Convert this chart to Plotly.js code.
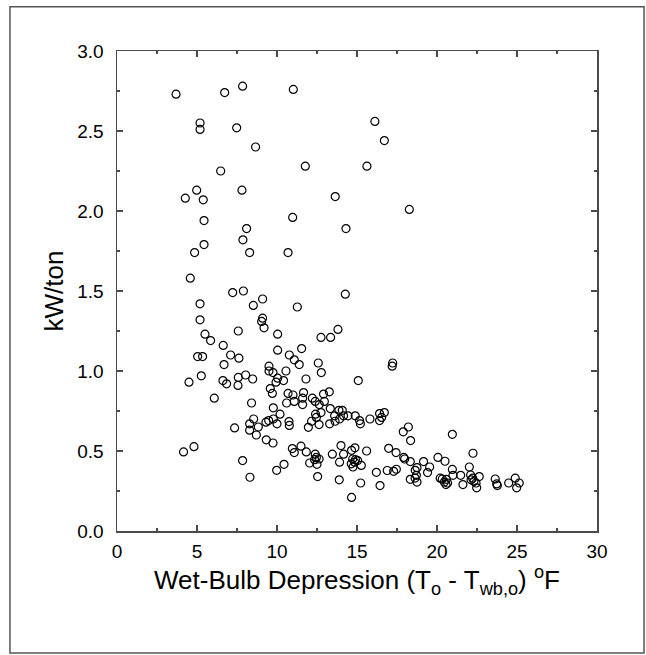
<!DOCTYPE html>
<html>
<head>
<meta charset="utf-8">
<script src="https://cdn.plot.ly/plotly-3.0.1.min.js"></script>
<style>
  html, body { margin: 0; padding: 0; background: #fff; }
  #chart { width: 646px; height: 655px; }
</style>
</head>
<body>
<div id="chart"></div>
<script>
// Wet-bulb depression (°F) for each observation
const wbDepression = [
  3.69, 6.73, 7.85, 5.19, 5.19, 7.48, 8.66, 6.48, 4.98, 4.27,
  5.39, 7.81, 5.44, 11.02, 16.12, 16.71, 11.77, 15.62, 13.64, 18.27,
  10.98, 8.10, 7.87, 4.85, 5.44, 8.29, 4.58, 14.31, 10.69,
  7.23, 7.90, 9.10, 5.19, 8.52, 5.19, 9.10, 9.04, 9.19, 5.50,
  5.85, 7.58, 10.04, 6.64, 7.10, 7.62, 5.04, 5.35, 10.04, 6.69,
  9.50, 9.50, 9.75, 14.27, 11.27, 13.81, 12.75, 13.35, 11.54, 10.77,
  11.08, 11.39, 12.58, 12.77, 17.23, 17.20, 10.56,
  5.27, 4.50, 6.62, 6.85, 7.58, 7.56, 8.04, 8.48, 9.94, 9.58,
  9.71, 6.08, 8.41, 9.77, 11.81, 15.08, 10.04, 10.41, 10.69, 11.00,
  11.66, 11.60, 12.21, 12.91, 13.27, 10.60, 11.08, 11.60, 12.39, 12.64,
  12.96, 10.19, 13.33, 12.41, 12.75, 13.87, 14.08, 13.60, 14.16, 14.44,
  14.89, 16.41, 16.71, 16.54, 15.81,
  8.54, 8.29, 8.29, 8.83, 8.71, 7.35, 9.31, 9.48, 9.77, 10.00,
  9.33, 9.75, 4.81, 10.75, 10.77, 12.16, 12.46, 12.63, 11.96, 13.29,
  13.91, 13.63, 15.16, 15.21, 16.41, 18.21, 17.89, 18.35, 10.96, 11.50,
  14.00, 14.87, 16.98, 20.96, 15.60, 14.66,
  4.16, 7.85, 8.31, 9.98, 10.44, 11.08, 11.83, 12.39, 12.46, 12.63,
  12.35, 12.04, 12.50, 12.54, 13.46, 14.16, 13.91, 13.89, 14.73, 14.90,
  14.64, 14.85, 15.04, 14.75, 15.27, 15.23, 14.66, 16.21, 16.44, 17.44,
  17.92, 17.98, 18.33, 16.89, 17.29, 17.46, 19.16, 18.75, 18.64, 18.71,
  18.63, 18.75, 18.33, 19.54, 19.41, 20.06, 20.20, 20.50, 22.25, 20.96,
  21.00, 20.33, 20.58, 20.46, 20.66, 20.56, 21.48, 21.62, 22.02, 22.10,
  22.23, 22.31, 22.44, 22.48, 22.64, 22.13, 23.64, 23.73, 23.77, 24.48,
  24.89, 24.98, 25.14
];

// Measured chiller efficiency (kW/ton) for the same observations
const kwPerTon = [
  2.73, 2.74, 2.78, 2.55, 2.51, 2.52, 2.40, 2.25, 2.13, 2.08,
  2.07, 2.13, 1.94, 2.76, 2.56, 2.44, 2.28, 2.28, 2.09, 2.01,
  1.96, 1.89, 1.82, 1.74, 1.79, 1.74, 1.58, 1.89, 1.74,
  1.49, 1.50, 1.45, 1.42, 1.41, 1.32, 1.33, 1.31, 1.27, 1.23,
  1.19, 1.25, 1.23, 1.16, 1.10, 1.08, 1.09, 1.09, 1.13, 1.04,
  1.03, 1.00, 0.99, 1.48, 1.40, 1.26, 1.21, 1.21, 1.14, 1.10,
  1.07, 1.04, 1.05, 0.99, 1.05, 1.03, 1.00,
  0.97, 0.93, 0.94, 0.92, 0.96, 0.91, 0.975, 0.95, 0.93, 0.89,
  0.86, 0.83, 0.80, 0.77, 0.95, 0.94, 0.955, 0.94, 0.86, 0.85,
  0.865, 0.83, 0.83, 0.856, 0.87, 0.80, 0.81, 0.79, 0.81, 0.79,
  0.81, 0.73, 0.765, 0.73, 0.74, 0.754, 0.754, 0.72, 0.72, 0.72,
  0.72, 0.734, 0.74, 0.71, 0.70,
  0.70, 0.67, 0.63, 0.65, 0.60, 0.644, 0.68, 0.69, 0.70, 0.67,
  0.57, 0.55, 0.527, 0.684, 0.66, 0.686, 0.71, 0.665, 0.648, 0.67,
  0.70, 0.686, 0.69, 0.67, 0.69, 0.65, 0.62, 0.565, 0.515, 0.53,
  0.534, 0.52, 0.517, 0.604, 0.50, 0.504,
  0.494, 0.44, 0.336, 0.379, 0.417, 0.49, 0.494, 0.48, 0.46, 0.45,
  0.446, 0.425, 0.417, 0.34, 0.48, 0.48, 0.43, 0.32, 0.45, 0.446,
  0.42, 0.43, 0.44, 0.40, 0.41, 0.30, 0.21, 0.367, 0.284, 0.49,
  0.46, 0.45, 0.434, 0.378, 0.373, 0.386, 0.434, 0.396, 0.379, 0.348,
  0.331, 0.306, 0.323, 0.40, 0.365, 0.46, 0.33, 0.436, 0.486, 0.385,
  0.348, 0.325, 0.323, 0.306, 0.30, 0.29, 0.348, 0.29, 0.40, 0.35,
  0.33, 0.31, 0.30, 0.27, 0.34, 0.32, 0.325, 0.294, 0.284, 0.30,
  0.33, 0.27, 0.30
];

// Axis tick labels
const xTickVals = [0, 5, 10, 15, 20, 25, 30];
const xTickText = ['0', '5', '10', '15', '20', '25', '30'];
const yTickVals = [0, 0.5, 1.0, 1.5, 2.0, 2.5, 3.0];
const yTickText = ['0.0', '0.5', '1.0', '1.5', '2.0', '2.5', '3.0'];

const FONT = 'Liberation Sans, Arial, Helvetica, sans-serif';
const AXIS_COLOR = '#4a4a4a';

const trace = {
  type: 'scatter',
  mode: 'markers',
  x: wbDepression,
  y: kwPerTon,
  marker: {
    symbol: 'circle',
    size: 8,
    color: 'rgba(0,0,0,0)',
    line: { color: '#000', width: 1.2 }
  },
  hoverinfo: 'skip'
};

function axisCommon() {
  return {
    showgrid: false,
    zeroline: false,
    showline: true,
    linecolor: AXIS_COLOR,
    linewidth: 1.5,
    mirror: 'ticks',
    ticks: 'inside',
    ticklen: 6,
    tickwidth: 1.3,
    tickcolor: AXIS_COLOR,
    tickfont: { family: FONT, size: 19, color: '#000' },
    tickmode: 'array'
  };
}

const layout = {
  width: 646,
  height: 655,
  paper_bgcolor: '#fff',
  plot_bgcolor: '#fff',
  showlegend: false,
  margin: { l: 117, r: 49, t: 51, b: 124, pad: 0 },
  xaxis: Object.assign(axisCommon(), {
    range: [0, 30],
    tickvals: xTickVals,
    ticktext: xTickText,
    ticklabelstandoff: 3,
    minor: { tickvals: [2.5, 7.5, 12.5, 17.5, 22.5, 27.5], ticks: 'inside', ticklen: 3, tickwidth: 1.2, tickcolor: AXIS_COLOR },
    title: {
      text: 'Wet-Bulb Depression (T<sub>o</sub> - T<sub>wb,o</sub>) <sup>o</sup>F',
      font: { family: FONT, size: 26, color: '#000' },
      standoff: 4
    }
  }),
  yaxis: Object.assign(axisCommon(), {
    range: [0, 3],
    tickvals: yTickVals,
    ticktext: yTickText,
    ticklabelstandoff: 8,
    minor: { tickvals: [0.25, 0.75, 1.25, 1.75, 2.25, 2.75], ticks: 'inside', ticklen: 3, tickwidth: 1.2, tickcolor: AXIS_COLOR },
    title: {
      text: 'kW/ton',
      font: { family: FONT, size: 26, color: '#000' },
      standoff: 6
    }
  }),
  shapes: [{
    type: 'rect',
    xref: 'paper', yref: 'paper',
    x0: -0.223, x1: 1.098,
    y0: -0.254, y1: 1.092,
    line: { color: '#555', width: 1.5 },
    fillcolor: 'rgba(0,0,0,0)',
    layer: 'below'
  }]
};

Plotly.newPlot('chart', [trace], layout, { displayModeBar: false, staticPlot: true });
</script>
</body>
</html>
